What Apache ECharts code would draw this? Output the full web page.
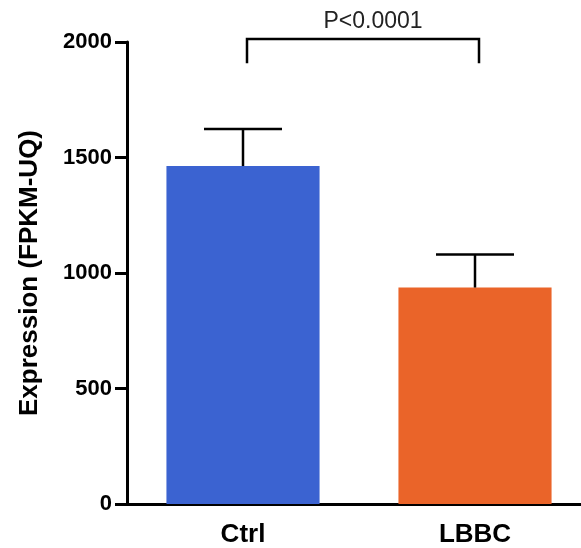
<!DOCTYPE html>
<html>
<head>
<meta charset="utf-8">
<script src="https://cdn.jsdelivr.net/npm/echarts@6/dist/echarts.min.js"></script>
<style>
  html, body { margin: 0; padding: 0; background: #fff; overflow: hidden; }
  /* the x axis runs past the right edge of the picture, so the chart is a bit wider than the window */
  #chart { width: 591px; height: 548px; }
</style>
</head>
<body>
<div id="chart"></div>
<script>
// data
const groups = ['Ctrl', 'LBBC']
const means = [1463, 937]
const errors = [160, 143]
const barColors = ['#3b63d1', '#ea6429']
const yTicks = [0, 500, 1000, 1500, 2000]
// significance bracket: from group, to group, top value, leg bottom value, label
const bracket = [[0, 1, 2013, 1908, 'P<0.0001']]

const chart = echarts.init(document.getElementById('chart'))

const font = 'Liberation Sans, Arial, Helvetica, sans-serif'

const option = {
  animation: false,
  grid: { left: 127, right: 0, top: 42, bottom: 44 },
  xAxis: {
    type: 'category',
    data: groups,
    axisLine: { lineStyle: { color: '#000', width: 3 } },
    axisTick: { alignWithLabel: true, length: 10, lineStyle: { color: '#000', width: 3 } },
    axisLabel: { color: '#000', fontFamily: font, fontWeight: 'bold', fontSize: 26, margin: 18 },
  },
  yAxis: {
    type: 'value',
    min: yTicks[0],
    max: yTicks[yTicks.length - 1],
    interval: 500,
    splitLine: { show: false },
    axisLine: { show: true, lineStyle: { color: '#000', width: 3 } },
    axisTick: { show: true, length: 12, lineStyle: { color: '#000', width: 3 } },
    axisLabel: {
      color: '#000', fontFamily: font, fontWeight: 'bold', fontSize: 22, margin: 15,
      formatter: v => String(v),
    },
    name: 'Expression (FPKM-UQ)',
    nameLocation: 'middle',
    nameGap: 84,
    nameTextStyle: { color: '#000', fontFamily: font, fontWeight: 'bold', fontSize: 26 },
  },
  series: [
    {
      type: 'bar',
      barWidth: '66%',
      data: means.map((v, i) => ({ value: v, itemStyle: { color: barColors[i] } })),
      z: 2,
    },
    {
      // upper error bars
      type: 'custom',
      data: means.map((v, i) => [i, v, v + errors[i]]),
      renderItem: function (params, api) {
        const lo = api.coord([api.value(0), api.value(1)])
        const hi = api.coord([api.value(0), api.value(2)])
        const half = 39
        return {
          type: 'group',
          children: [
            { type: 'line', shape: { x1: lo[0], y1: lo[1], x2: hi[0], y2: hi[1] }, style: { stroke: '#000', lineWidth: 2.5 } },
            { type: 'line', shape: { x1: hi[0] - half, y1: hi[1], x2: hi[0] + half, y2: hi[1] }, style: { stroke: '#000', lineWidth: 2.5 } },
          ],
        }
      },
      z: 3,
    },
    {
      // significance bracket
      type: 'custom',
      data: bracket,
      renderItem: function (params, api) {
        const a = api.coord([api.value(0), api.value(2)])
        const b = api.coord([api.value(1), api.value(2)])
        const legY = api.coord([api.value(0), api.value(3)])[1]
        const x1 = a[0] + 4
        const x2 = b[0] + 4
        return {
          type: 'group',
          children: [
            {
              type: 'polyline',
              shape: { points: [[x1, legY], [x1, a[1]], [x2, a[1]], [x2, legY]] },
              style: { stroke: '#000', lineWidth: 2.5, fill: null },
            },
            {
              type: 'text',
              x: (x1 + x2) / 2 + 10,
              y: a[1] - 6,
              style: {
                text: bracket[params.dataIndex][4],
                fill: '#222',
                font: '23px ' + font,
                align: 'center',
                verticalAlign: 'bottom',
              },
            },
          ],
        }
      },
      z: 3,
    },
  ],
}

chart.setOption(option)
</script>
</body>
</html>
